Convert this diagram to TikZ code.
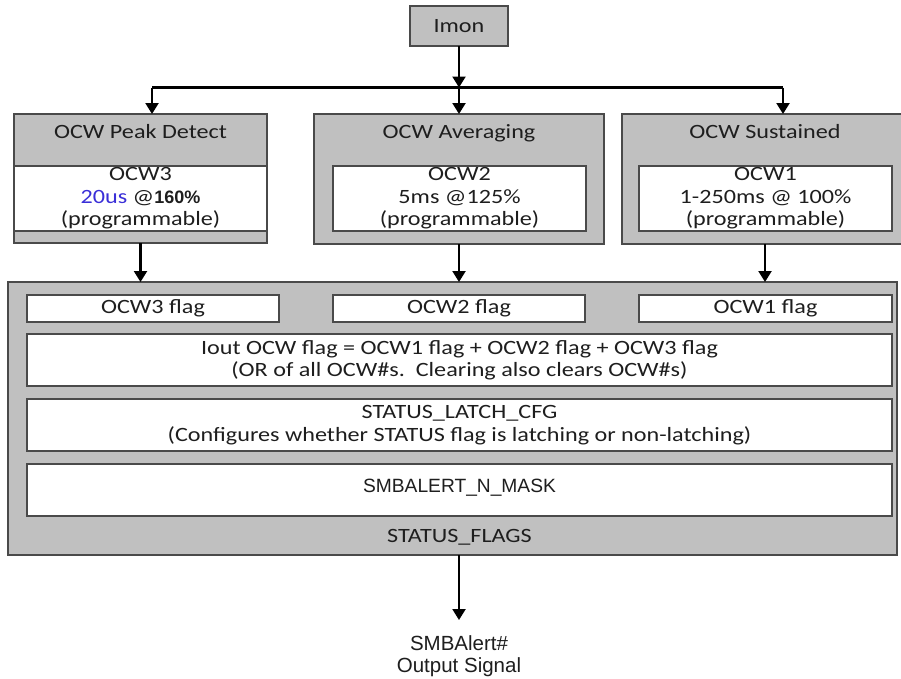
\documentclass[tikz,border=0pt]{standalone}
\usepackage{fontspec}
\setmainfont[FakeStretch=1.19]{Carlito}
\newfontfamily\arialfont{Liberation Sans}
\usetikzlibrary{arrows.meta}
\definecolor{boxgray}{HTML}{C0C0C0}
\definecolor{edgegray}{HTML}{4A4A4A}
\definecolor{txtcol}{HTML}{1E1E1E}
\definecolor{bluetxt}{HTML}{3A2FD8}
\tikzset{
  gbox/.style={draw=edgegray, fill=boxgray, line width=1.5pt, inner sep=0pt, outer sep=0pt},
  wbox/.style={draw=edgegray, fill=white, line width=1.5pt, inner sep=0pt, outer sep=0pt},
  lbl/.style={inner sep=0pt, outer sep=0pt, align=center, text=txtcol, font=\fontsize{20.3}{22.5}\selectfont},
  albl/.style={inner sep=0pt, outer sep=0pt, align=center, text=txtcol, font=\arialfont\fontsize{19.2}{22}\selectfont},
  arr/.style={line width=2.2pt, -{Triangle[width=13pt,length=11pt]}},
  wire/.style={line width=2.2pt}
}
\begin{document}
\begin{tikzpicture}[x=1pt,y=-1pt]
\clip (0,0) rectangle (901,678);
\fill[white] (0,0) rectangle (901,678);
% Imon
\node[gbox, minimum width=98pt, minimum height=40pt] (imon) at (459,26) {};
\node[lbl] (imont) at (459,26) {Imon};
% OCW boxes
\node[gbox, minimum width=253pt, minimum height=129pt] (pk) at (140.5,178.5) {};
\node[wbox, minimum width=253pt, minimum height=65pt] (pkw) at (140.5,198.5) {};
\node[lbl] (pkt) at (140.5,132) {OCW Peak Detect};
\node[lbl] (pkx) at (140.5,198.5) {OCW3\\{\color{bluetxt}20us} @{\arialfont\bfseries\fontsize{18}{22}\selectfont 160\%}\\(programmable)};

\node[gbox, minimum width=290pt, minimum height=130pt] (avg) at (459,179) {};
\node[wbox, minimum width=253pt, minimum height=65pt] (avgw) at (459.5,198.5) {};
\node[lbl] (avgt) at (459,133.5) {OCW Averaging};
\node[lbl] (avgx) at (459.5,198.5) {OCW2\\5ms @125\%\\(programmable)};

\node[gbox, minimum width=286pt, minimum height=130pt] (sus) at (765,179) {};
\node[wbox, minimum width=253pt, minimum height=65pt] (susw) at (765.5,198.5) {};
\node[lbl] (sust) at (765,132) {OCW Sustained};
\node[lbl] (susx) at (765.5,198.5) {OCW1\\1-250ms @ 100\%\\(programmable)};
% STATUS_FLAGS
\node[gbox, minimum width=889pt, minimum height=273pt] (st) at (452.5,418.5) {};
\node[wbox, minimum width=252pt, minimum height=27pt] (f3) at (153,308.5) {};
\node[lbl] (f3t) at (153,308.5) {OCW3 flag};
\node[wbox, minimum width=252pt, minimum height=27pt] (f2) at (459,308.5) {};
\node[lbl] (f2t) at (459,308.5) {OCW2 flag};
\node[wbox, minimum width=253pt, minimum height=27pt] (f1) at (765.5,308.5) {};
\node[lbl] (f1t) at (765.5,308.5) {OCW1 flag};
\node[wbox, minimum width=865pt, minimum height=52pt] (io) at (459.5,360) {};
\node[lbl] (iot) at (459.5,360) {Iout OCW flag = OCW1 flag + OCW2 flag + OCW3 flag\\(OR of all OCW\#s.\ \ Clearing also clears OCW\#s)};
\node[wbox, minimum width=865pt, minimum height=52pt] (lc) at (459.5,425) {};
\node[lbl] (lct) at (459.5,425) {STATUS\_LATCH\_CFG\\(Configures whether STATUS flag is latching or non-latching)};
\node[wbox, minimum width=865pt, minimum height=52pt] (mk) at (459.5,490) {};
\node[albl] (mkt) at (459.5,488) {SMBALERT\_N\_MASK};
\node[lbl] (stt) at (459.5,537) {STATUS\_FLAGS};
% output
\node[albl, font=\arialfont\fontsize{20.5}{22}\selectfont] (out) at (459,656) {SMBAlert\#\\Output Signal};
% connectors
\coordinate (j) at (459,87.5);
\coordinate (jl) at (152,87.5);
\coordinate (jr) at (783,87.5);
\coordinate (tip) at (459,620);
\draw[arr] (imon.south) -- (j);
\draw[wire] (jl) -- (jr);
\draw[arr] (jl) -- (jl |- pk.north);
\draw[arr] (j) -- (avg.north);
\draw[arr] (jr) -- (jr |- sus.north);
\draw[arr] (pk.south) -- (pk.south |- st.north);
\draw[arr] (avg.south) -- (avg.south |- st.north);
\draw[arr] (sus.south) -- (sus.south |- st.north);
\draw[arr] (tip |- st.south) -- (tip);
\end{tikzpicture}
\end{document}
